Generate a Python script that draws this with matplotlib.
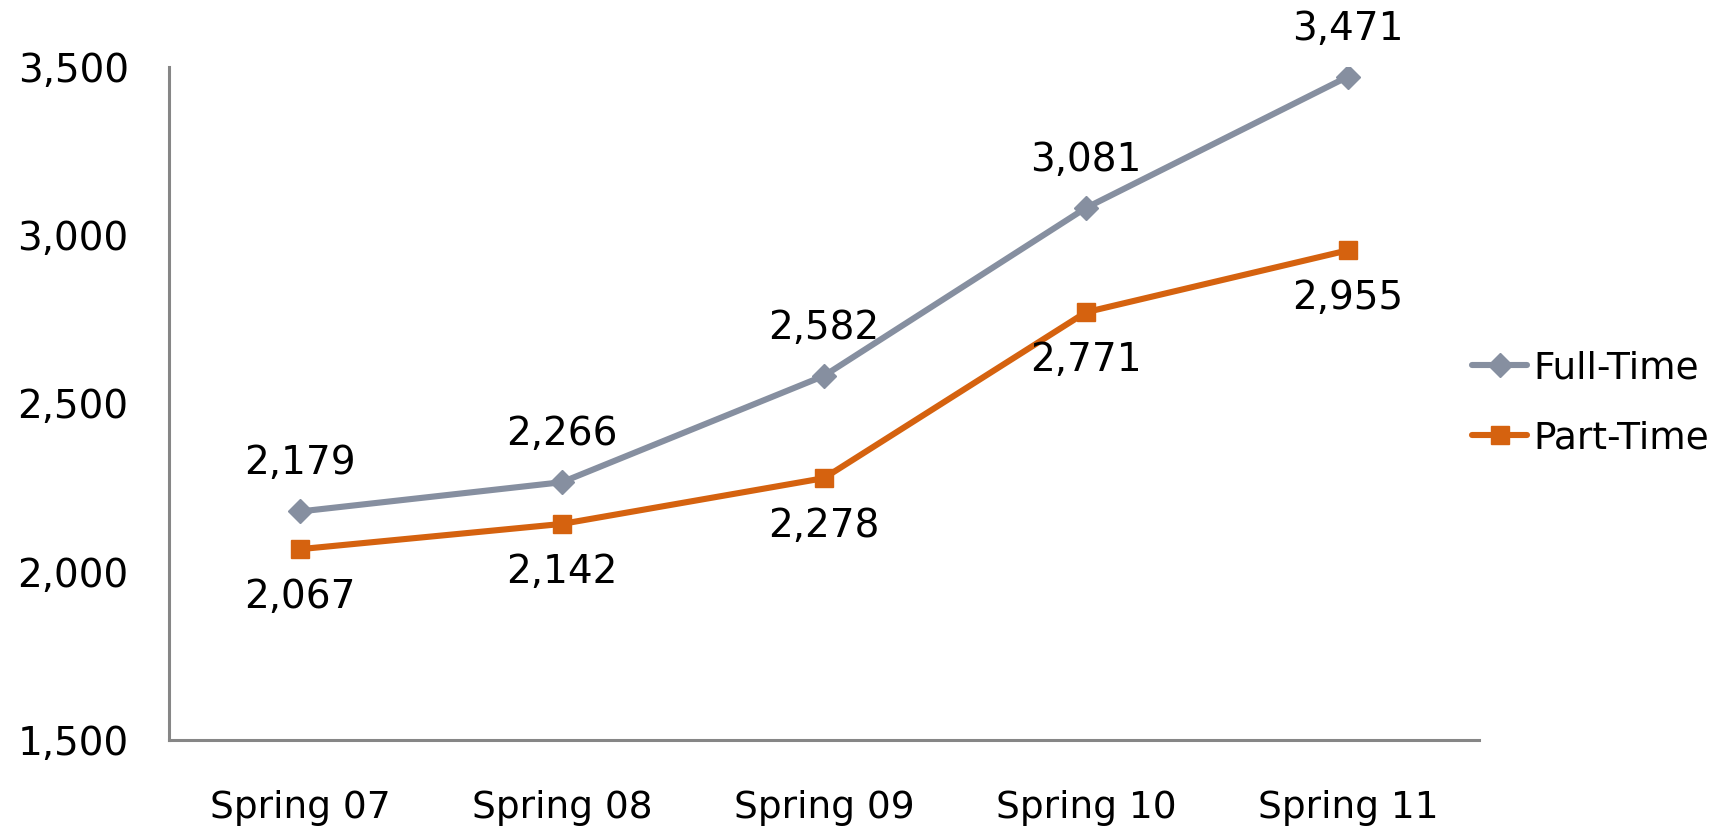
import matplotlib.pyplot as plt

# chart data
categories = ["Spring 07", "Spring 08", "Spring 09", "Spring 10", "Spring 11"]
full_time = [2179, 2266, 2582, 3081, 3471]
part_time = [2067, 2142, 2278, 2771, 2955]
y_ticks = [1500, 2000, 2500, 3000, 3500]

plt.rcParams['font.family'] = ['DejaVu Sans']

fig = plt.figure(figsize=(17.35, 8.32), dpi=100)
ax = fig.add_axes([0.0974, 0.1106, 0.755, 0.809])

x = list(range(len(categories)))
gray = '#868FA0'
orange = '#D5620F'

ax.plot(x, full_time, color=gray, lw=4.4, marker='D', markersize=12,
        label='Full-Time', solid_capstyle='round')
ax.plot(x, part_time, color=orange, lw=4.4, marker='s', markersize=13,
        label='Part-Time', solid_capstyle='round')

for xi, v in zip(x, full_time):
    ax.annotate(f"{v:,}", (xi, v), xytext=(0, 48), textcoords='offset pixels',
                ha='center', va='center', fontsize=28)
for xi, v in zip(x, part_time):
    ax.annotate(f"{v:,}", (xi, v), xytext=(0, -48), textcoords='offset pixels',
                ha='center', va='center', fontsize=28)

ax.set_xlim(-0.5, len(categories) - 0.5)
ax.set_ylim(1500, 3500)
ax.set_xticks(x)
ax.set_xticklabels(categories, fontsize=27)
ax.set_yticks(y_ticks)
ax.set_yticklabels([f"{t:,}" for t in y_ticks], fontsize=28)
ax.tick_params(length=0)
ax.tick_params(axis='x', pad=36)
ax.tick_params(axis='y', pad=29)

for s in ['top', 'right']:
    ax.spines[s].set_visible(False)
for s in ['left', 'bottom']:
    ax.spines[s].set_color('#868686')
    ax.spines[s].set_linewidth(2.2)

ax.legend(loc='center left', bbox_to_anchor=(0.995, 0.5), frameon=False,
          fontsize=27, handlelength=1.45, handletextpad=0.18, labelspacing=0.9,
          borderpad=0, borderaxespad=0)

fig.savefig('out.png', dpi=100)
